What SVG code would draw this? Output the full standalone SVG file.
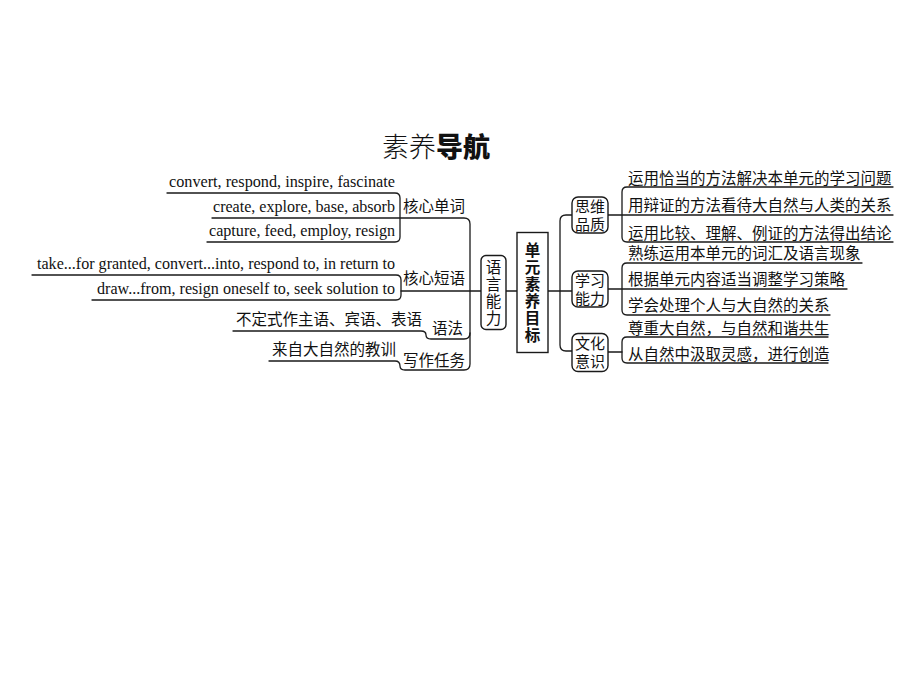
<svg xmlns="http://www.w3.org/2000/svg" width="920" height="690" viewBox="0 0 920 690">
<style>
.ln{fill:none;stroke:#1a1a1a;stroke-width:1.3;stroke-linecap:round;stroke-linejoin:round}
.bx{fill:#fff;stroke:#1a1a1a;stroke-width:1.4}
.zh{font-family:"Noto Sans CJK SC",sans-serif;font-size:15.5px;fill:#111}
.en{font-family:"Liberation Serif",serif;font-size:16px;fill:#111}
.col{font-family:"Noto Sans CJK SC",sans-serif;font-size:15.5px;fill:#111;writing-mode:vertical-rl;letter-spacing:1.5px}
.bl{font-family:"Liberation Sans","Noto Sans CJK SC",sans-serif;font-size:15px;fill:#111;text-anchor:middle}
</style>
<rect width="920" height="690" fill="#fff"/>
<g id="title">
<text x="382" y="157" font-family="Noto Sans CJK SC, sans-serif" font-size="27" fill="#111"><tspan font-weight="300">素养</tspan><tspan font-weight="900">导航</tspan></text>
</g>
<g id="connectors">
<path class="ln" d="M167,193 H395 Q400,193 400,198 V237 Q400,242 395,242 H207"/>
<path class="ln" d="M212,218 H464 Q470,218 470,224 V364 Q470,370 464,370 H405 Q400,370 400,366 Q400,361 395,361 H269"/>
<path class="ln" d="M32,275 H396 Q401,275 401,280 V295 Q401,300 396,300 H92"/>
<path class="ln" d="M401,291 H481"/>
<path class="ln" d="M233,331 H421 Q426,331 426,335 Q426,339 431,339 H464 Q470,339 470,333"/>
<path class="ln" d="M506,291 H517"/>
<path class="ln" d="M548,291 H572"/>
<path class="ln" d="M572,215 H566 Q560,215 560,221 V345 Q560,351 566,351 H572"/>
<path class="ln" d="M893,187 H627 Q622,187 622,192 V237 Q622,242 627,242 H893"/>
<path class="ln" d="M608,215 H893"/>
<path class="ln" d="M862,263 H627 Q622,263 622,268 V310 Q622,315 627,315 H830"/>
<path class="ln" d="M608,289 H847"/>
<path class="ln" d="M828,337 H627 Q622,337 622,342 V358 Q622,363 627,363 H828"/>
<path class="ln" d="M608,352 H622"/>
</g>
<g id="n-core-words">
<text class="en" x="395" y="187" text-anchor="end" textLength="226" lengthAdjust="spacingAndGlyphs">convert, respond, inspire, fascinate</text>
<text class="en" x="395" y="212" text-anchor="end" textLength="182" lengthAdjust="spacingAndGlyphs">create, explore, base, absorb</text>
<text class="en" x="395" y="236" text-anchor="end" textLength="186" lengthAdjust="spacingAndGlyphs">capture, feed, employ, resign</text>
<text class="zh" x="403" y="212">核心单词</text>
</g>
<g id="n-core-phrases">
<text class="en" x="395" y="269" text-anchor="end" textLength="358" lengthAdjust="spacingAndGlyphs">take...for granted, convert...into, respond to, in return to</text>
<text class="en" x="395" y="294" text-anchor="end" textLength="298" lengthAdjust="spacingAndGlyphs">draw...from, resign oneself to, seek solution to</text>
<text class="zh" x="403" y="284">核心短语</text>
</g>
<g id="n-grammar">
<text class="zh" x="236" y="325">不定式作主语、宾语、表语</text>
<text class="zh" x="432" y="334">语法</text>
</g>
<g id="n-writing">
<text class="zh" x="272" y="355">来自大自然的教训</text>
<text class="zh" x="403" y="366">写作任务</text>
</g>
<g id="n-language">
<rect class="bx" x="481" y="255.5" width="25" height="74" rx="5"/>
<text class="col" x="493.5" y="259.5">语言能力</text>
</g>
<g id="n-center">
<rect class="bx" x="517" y="232.5" width="31" height="120"/>
<text class="col" x="532.5" y="242.5" font-weight="bold">单元素养目标</text>
</g>
<g id="n-thinking">
<rect class="bx" x="572" y="197" width="36" height="36" rx="6"/>
<text class="bl" x="590" y="211.5">思维<tspan x="590" dy="18">品质</tspan></text>
<text class="zh" x="628" y="184">运用恰当的方法解决本单元的学习问题</text>
<text class="zh" x="628" y="211">用辩证的方法看待大自然与人类的关系</text>
<text class="zh" x="628" y="239">运用比较、理解、例证的方法得出结论</text>
</g>
<g id="n-learning">
<rect class="bx" x="572" y="271" width="36" height="36" rx="6"/>
<text class="bl" x="590" y="285.5">学习<tspan x="590" dy="18">能力</tspan></text>
<text class="zh" x="628" y="259">熟练运用本单元的词汇及语言现象</text>
<text class="zh" x="628" y="285">根据单元内容适当调整学习策略</text>
<text class="zh" x="628" y="311">学会处理个人与大自然的关系</text>
</g>
<g id="n-culture">
<rect class="bx" x="572" y="333.5" width="36" height="38" rx="6"/>
<text class="bl" x="590" y="348.5">文化<tspan x="590" dy="18">意识</tspan></text>
<text class="zh" x="628" y="334">尊重大自然，与自然和谐共生</text>
<text class="zh" x="628" y="360">从自然中汲取灵感，进行创造</text>
</g>
</svg>
